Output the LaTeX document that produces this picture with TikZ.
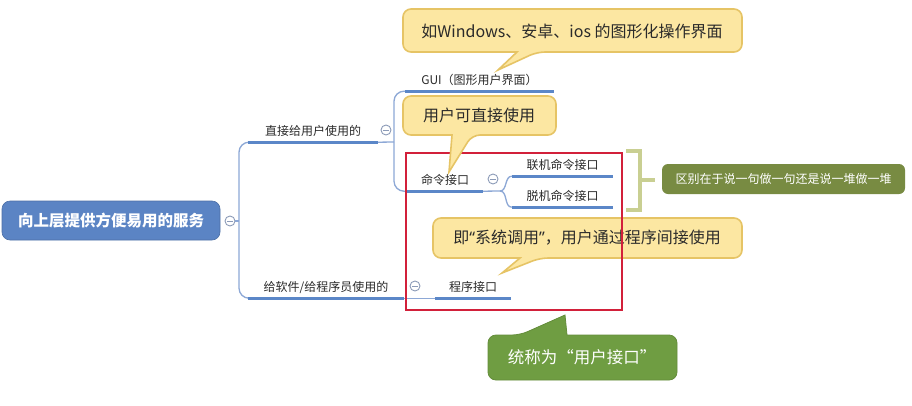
\documentclass[tikz,border=0pt]{standalone}
\usepackage{fontspec}
\setmainfont{Noto Sans CJK SC}
\newfontfamily\latq{Noto Sans}
\usetikzlibrary{calc}
\definecolor{rootblue}{HTML}{5B84C4}
\definecolor{lineblue}{HTML}{5B87C8}
\definecolor{thinblue}{HTML}{8DA8D6}
\definecolor{foldc}{HTML}{8C9BB8}
\definecolor{calloutfill}{HTML}{FCE7A2}
\definecolor{calloutdraw}{HTML}{E6C465}
\definecolor{greenfill}{HTML}{6F9D42}
\definecolor{olivefill}{HTML}{788B42}
\definecolor{bracketc}{HTML}{C9CF92}
\definecolor{redbox}{HTML}{D2203A}
\definecolor{txt}{HTML}{2A2A2A}
\begin{document}
\begin{tikzpicture}[x=1pt,y=-1pt,
  topic/.style={minimum height=22pt, inner sep=0pt, text=txt, font=\fontsize{12}{14}\selectfont},
  uline/.style={draw=lineblue, line width=3pt},
  conn/.style={draw=thinblue, line width=1.3pt},
  fold/.style={circle, draw=foldc, fill=white, line width=0.9pt, minimum size=10pt, inner sep=0pt,
    path picture={\draw[foldc, line width=0.9pt] ([xshift=-2.6pt]path picture bounding box.center) -- ([xshift=2.6pt]path picture bounding box.center);}},
  bubble/.style={fill=calloutfill, draw=calloutdraw, line width=1.6pt, rounded corners=8pt},
  gbubble/.style={fill=greenfill, draw=greenfill!90!black, line width=0.8pt, rounded corners=8pt},
  btext/.style={text=txt, font=\fontsize{16}{19}\selectfont, inner sep=0pt},
  bracket/.style={draw=bracketc, line width=4pt}]

\useasboundingbox[fill=white] (0,0) rectangle (912,405);

% root
\node[fill=rootblue, draw=rootblue!85!black, line width=0.6pt, rounded corners=8pt, minimum width=218pt, minimum height=39pt,
  text=white, font=\bfseries\fontsize{15.5}{18}\selectfont] (root) at (111,220.5) {向上层提供方便易用的服务};
\node[fold] (c0) at (230,221) {};

% topics
\node[topic, minimum width=130pt] (n1) at (313,131) {直接给用户使用的};
\node[topic, minimum width=156pt] (n2) at (326,287) {给软件/给程序员使用的};
\node[topic, minimum width=149pt] (g) at (479.5,80) {GUI（图形用户界面）};
\node[topic, minimum width=76pt] (m) at (445,180) {命令接口};
\node[topic, minimum width=101pt] (l1) at (562.5,165) {联机命令接口};
\node[topic, minimum width=101pt] (l2) at (562.5,196) {脱机命令接口};
\node[topic, minimum width=76pt] (p) at (473,287) {程序接口};

\node[fold] (c1) at (386,130) {};
\node[fold] (c2) at (493,179) {};
\node[fold] (c3) at (415,286) {};

\coordinate (j0) at (239,221);
\coordinate (j1) at (394,142);
\coordinate (j2) at (500,191);

% connectors
\draw[conn] (c0.east) -- (j0);
\draw[conn, rounded corners=10pt] (n1.south west) -| (j0) |- (n2.south west);
\draw[conn] (n1.south east) -- (j1);
\draw[conn, rounded corners=10pt] (g.south west) -| (j1) |- (m.south west);
\draw[conn] (m.south east) -- (j2);
\draw[conn] (j2) to[out=0,in=180] (l1.south west);
\draw[conn] (j2) to[out=0,in=180] (l2.south west);
\draw[conn] (n2.south east) -- (p.south west);

% underlines
\foreach \n in {n1,n2,g,m,l1,l2,p}
  \draw[uline] (\n.south west) -- (\n.south east);

% bracket and note
\draw[bracket] (626,151) -- (640,151) -- (640,210) -- (626,210);
\draw[bracket] (640,180) -- (655,180);
\node[fill=olivefill, rounded corners=6pt, minimum width=243pt, minimum height=30pt, inner sep=0pt,
  text=white, font=\fontsize{12}{14}\selectfont] (diff) at (783.5,179) {区别在于说一句做一句还是说一堆做一堆};

% callout 1
\path[bubble] (572,9) -- (742,9) -- (742,52) -- (537,52) [sharp corners] -- (498,70) -- (517,52) [rounded corners=8pt] -- (403,52) -- (403,9) -- cycle;
\node[btext] (b1) at (572,31) {如Windows、安卓、ios 的图形化操作界面};

% callout 3
\path[bubble] (587,218) -- (742,218) -- (742,258) -- (540,258) [sharp corners] -- (502,273) -- (520,258) [rounded corners=8pt] -- (433,258) -- (433,218) -- cycle;
\node[btext] (b3) at (587,238) {即{\latq “}系统调用{\latq ”}，用户通过程序间接使用};

% red frame
\draw[draw=redbox, line width=2pt] (406,153) rectangle (622,310);

% callout 2
\path[bubble] (478,96) -- (556,96) -- (556,135) -- (472,135) [sharp corners] -- (449,172) -- (452,135) [rounded corners=8pt] -- (403,135) -- (403,96) -- cycle;
\node[btext] (b2) at (479,115.5) {用户可直接使用};

% callout 4 (green)
\path[gbubble] (582,335) -- (677,335) -- (677,380) -- (488,380) -- (488,335) -- (520,335) [sharp corners] -- (565,315) -- (567,335) [rounded corners=8pt] -- cycle;
\node[btext, text=white, font=\fontsize{16.5}{19}\selectfont] (b4) at (582,357.5) {统称为“用户接口”};

\end{tikzpicture}
\end{document}
